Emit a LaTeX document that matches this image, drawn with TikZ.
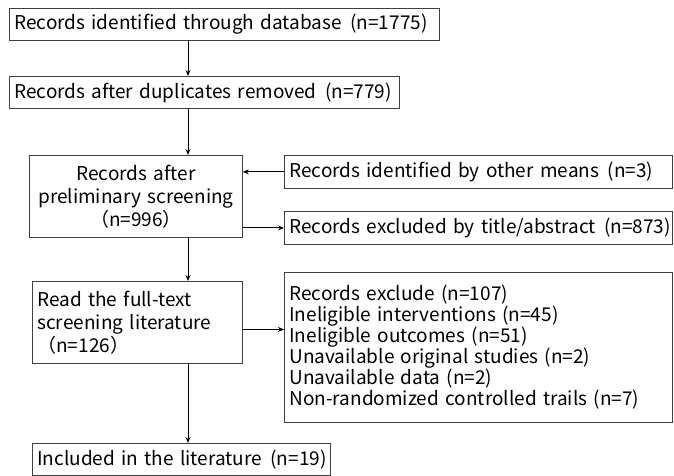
\documentclass[tikz,border=0pt]{standalone}
\usepackage{fontspec}
\setmainfont{Noto Sans CJK SC}
\usetikzlibrary{arrows.meta}
\newcommand{\cnt}[1]{\hspace{0.45em}(n=#1)}

\begin{document}
\begin{tikzpicture}[x=1pt, y=-1pt,
  box/.style={draw=black!75, line width=0.8pt, anchor=north west, inner xsep=5pt, inner ysep=0pt, align=left, font=\fontsize{19}{23}\selectfont},
  arr/.style={-{Stealth[length=6pt, width=5pt]}, line width=1pt}]
\useasboundingbox (0,0) rectangle (674,475);
% Boxes
\node[box, text width=420pt, minimum height=32pt] (db) at (9,8) {\mbox{Records identified through database\cnt{1775}}};
\node[box, text width=380pt, minimum height=32pt] (dup) at (9,76) {\mbox{Records after duplicates removed\cnt{779}}};
\node[box, align=center, text width=203pt, minimum height=82pt] (prelim) at (29,155) {Records after\\preliminary screening\\（n=996）};
\node[box, text width=378pt, minimum height=33pt] (other) at (284,155) {\mbox{Records identified by other means\cnt{3}}};
\node[box, text width=378pt, minimum height=33pt] (title) at (284,211) {\mbox{Records excluded by title/abstract\cnt{873}}};
\node[box, text width=200pt, minimum height=82pt] (full) at (32,281) {Read the full-text\\screening literature\\（n=126）};
\node[box, text width=378pt, minimum height=150pt, font=\fontsize{19}{21}\selectfont] (excl) at (284,272) {Records exclude (n=107)\\Ineligible interventions (n=45)\\Ineligible outcomes (n=51)\\Unavailable original studies (n=2)\\Unavailable data (n=2)\\Non-randomized controlled trails (n=7)};
\node[box, text width=288pt, minimum height=32pt] (incl) at (32,443) {\mbox{Included in the literature\cnt{19}}};
% Connections
\coordinate (spine) at (188,0);
\draw[arr] (db.south -| spine) -- (dup.north -| spine);
\draw[arr] (dup.south -| spine) -- (prelim.north -| spine);
\draw[arr] (other.west) -- (other.west -| prelim.east);
\draw[arr] (title.west -| prelim.east) -- (title.west);
\draw[arr] (prelim.south -| spine) -- (full.north -| spine);
\draw[arr] ([yshift=-7pt]full.east) -- ([yshift=-7pt]full.east -| excl.west);
\draw[arr] (full.south -| spine) -- (incl.north -| spine);
\end{tikzpicture}
\end{document}
